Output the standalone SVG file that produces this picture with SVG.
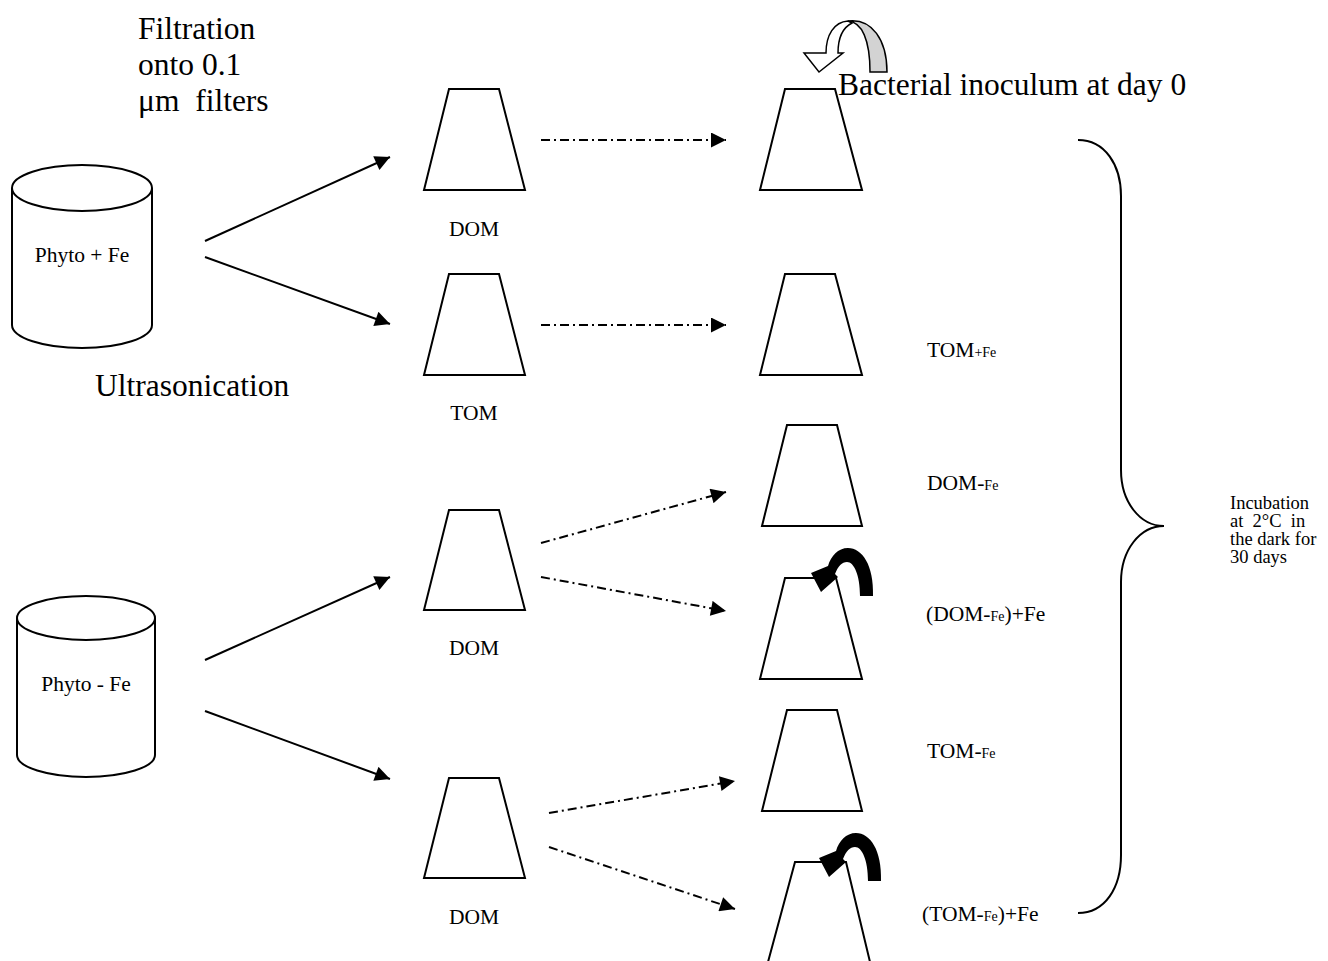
<svg xmlns="http://www.w3.org/2000/svg" width="1328" height="961" viewBox="0 0 1328 961">
<style>
text{font-family:"Liberation Serif","Times New Roman",serif;fill:#000}
.big{font-size:31.5px}
.sm{font-size:21.5px}
.inc{font-size:18.5px}
.sub{font-size:14px}
.shape{fill:#fff;stroke:#000;stroke-width:2;stroke-linejoin:miter}
.solid{fill:none;stroke:#000;stroke-width:2;marker-end:url(#ah)}
.dd{fill:none;stroke:#000;stroke-width:2;stroke-dasharray:9 4 2 4;marker-end:url(#ah)}
</style>
<defs>
<marker id="ah" viewBox="0 0 10 10" refX="10" refY="5" markerWidth="8.5" markerHeight="7.5" markerUnits="strokeWidth" orient="auto">
<path d="M0 0 L10 5 L0 10 Z" fill="#000"/>
</marker>
<path id="blk" d="M873 596 C874 565 862 548 848 548 C838 548 831 556 828 566 L811 573 L821 592 L838 577 L835 574 C838 566 842 562 847 562 C854 562 860 575 860 596 Z" fill="#000"/>
</defs>
<rect width="1328" height="961" fill="#fff"/>

<g id="title-text">
<text class="big" x="138" y="39">Filtration</text>
<text class="big" x="138" y="75">onto 0.1</text>
<text class="big" x="138" y="111" xml:space="preserve">μm  filters</text>
<text class="big" x="95" y="396">Ultrasonication</text>
</g>

<g id="cyl-plus">
<path class="shape" d="M12 188 L12 325 A70 23 0 0 0 152 325 L152 188"/>
<ellipse class="shape" cx="82" cy="188" rx="70" ry="23"/>
<text class="sm" x="82" y="262" text-anchor="middle">Phyto + Fe</text>
</g>
<g id="cyl-minus">
<path class="shape" d="M17 618 L17 755 A69 22 0 0 0 155 755 L155 618"/>
<ellipse class="shape" cx="86" cy="618" rx="69" ry="22"/>
<text class="sm" x="86" y="691" text-anchor="middle">Phyto - Fe</text>
</g>

<g id="col1-dom1"><path class="shape" d="M449 89 L499 89 L525 190 L424 190 Z"/><text class="sm" x="474" y="236" text-anchor="middle">DOM</text></g>
<g id="col1-tom"><path class="shape" d="M449 274 L499 274 L525 375 L424 375 Z"/><text class="sm" x="474" y="420" text-anchor="middle">TOM</text></g>
<g id="col1-dom2"><path class="shape" d="M449 510 L499 510 L525 610 L424 610 Z"/><text class="sm" x="474" y="655" text-anchor="middle">DOM</text></g>
<g id="col1-dom3"><path class="shape" d="M449 778 L499 778 L525 878 L424 878 Z"/><text class="sm" x="474" y="924" text-anchor="middle">DOM</text></g>

<g id="col2-a"><path class="shape" d="M785 89 L835 89 L862 190 L760 190 Z"/></g>
<g id="col2-b"><path class="shape" d="M785 274 L835 274 L862 375 L760 375 Z"/><text class="sm" x="927" y="357">TOM<tspan class="sub">+Fe</tspan></text></g>
<g id="col2-c"><path class="shape" d="M787 425 L837 425 L862 526 L762 526 Z"/><text class="sm" x="927" y="490">DOM-<tspan class="sub">Fe</tspan></text></g>
<g id="col2-d"><path class="shape" d="M785 578 L836 578 L862 679 L760 679 Z"/><text class="sm" x="926" y="621">(DOM-<tspan class="sub">Fe</tspan>)+Fe</text></g>
<g id="col2-e"><path class="shape" d="M787 710 L837 710 L862 811 L762 811 Z"/><text class="sm" x="927" y="758">TOM-<tspan class="sub">Fe</tspan></text></g>
<g id="col2-f"><path class="shape" d="M795 862 L846 862 L870 962 L768 962 Z"/><text class="sm" x="922" y="921">(TOM-<tspan class="sub">Fe</tspan>)+Fe</text></g>

<g id="inoculum">
<path d="M848 21 C862 22 870 40 870 72 L887 72 C887 40 872 18 848 21 Z" fill="#d3d3d3" stroke="#000" stroke-width="1.5"/>
<path d="M848 21 C834 22 826 35 826 53 L804 53 L819 72 L843 53 L838 53 C838 40 842 28 852 23 Z" fill="#fff" stroke="#000" stroke-width="1.5" stroke-linejoin="miter"/>
<text class="big" x="838" y="95">Bacterial inoculum at day 0</text>
</g>
<g id="fe-add-1"><use href="#blk"/></g>
<g id="fe-add-2"><use href="#blk" transform="translate(8,285)"/></g>

<g id="connectors">
<line class="solid" x1="205" y1="241" x2="390" y2="157"/>
<line class="solid" x1="205" y1="257" x2="390" y2="324"/>
<line class="solid" x1="205" y1="660" x2="390" y2="577"/>
<line class="solid" x1="205" y1="711" x2="390" y2="779"/>
<line class="dd" x1="541" y1="140" x2="726" y2="140"/>
<line class="dd" x1="541" y1="325" x2="726" y2="325"/>
<line class="dd" x1="541" y1="543" x2="726" y2="492"/>
<line class="dd" x1="541" y1="577" x2="726" y2="611"/>
<line class="dd" x1="549" y1="813" x2="735" y2="781"/>
<line class="dd" x1="549" y1="847" x2="735" y2="909"/>
</g>

<g id="incubation">
<path d="M1078 140 C1105 140 1121 165 1121 196 L1121 470 C1121 502 1140 526 1164 526 C1140 526 1121 550 1121 582 L1121 855 C1121 888 1105 913 1078 913" fill="none" stroke="#000" stroke-width="2"/>
<text class="inc" x="1230" y="509">Incubation</text>
<text class="inc" x="1230" y="527" xml:space="preserve">at  2°C  in</text>
<text class="inc" x="1230" y="545">the dark for</text>
<text class="inc" x="1230" y="563">30 days</text>
</g>
</svg>
